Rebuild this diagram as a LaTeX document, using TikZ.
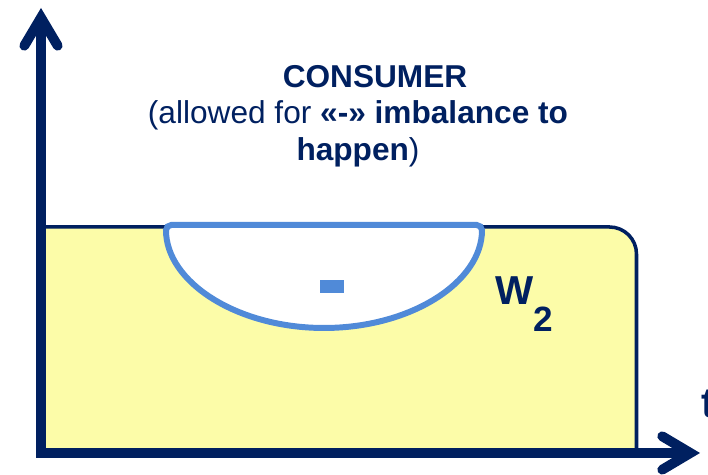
\documentclass[tikz,border=0pt]{standalone}
\usepackage{fontspec}
\setmainfont{Liberation Sans}
\usetikzlibrary{arrows.meta}
\definecolor{navy}{RGB}{0,32,96}
\definecolor{fillyellow}{RGB}{252,252,168}
\definecolor{lineblue}{RGB}{80,138,216}
\tikzset{
    barb/.tip={Straight Barb[length=16pt, width=19pt, line cap=round, line join=miter]},
    axisline/.style={navy, line width=5.6pt, line join=miter, barb-barb},
    border/.style={navy, line width=2pt},
    lobe/.style={lineblue, line width=3.4pt, fill=white, rounded corners=3pt},
    labeltext/.style={navy, font=\fontsize{18}{21}\selectfont, align=center, inner sep=0pt},
}

\begin{document}
\begin{tikzpicture}[x=0.02cm, y=0.02cm]

    \useasboundingbox (0,0) rectangle (708,475);

    % Energy area
    \fill[fillyellow] (41,22) -- (41,248) -- (609.5,248)
        arc[start angle=90, end angle=0, radius=27] -- (636.5,22) -- cycle;
    \draw[border] (41,248) -- (609.5,248)
        arc[start angle=90, end angle=0, radius=27] -- (636.5,22);

    % Imbalance lobe
    \draw[lobe] (166,250)
        arc[start angle=180, end angle=360, x radius=158, y radius=103] -- cycle;
    \fill[lineblue] (320,182) rectangle (344,195);

    % Axes
    \draw[axisline] (41,467) -- (41,22) -- (700,22);
    \node[navy, font=\fontsize{24}{28}\selectfont\bfseries, anchor=base west] (t) at (695,57) {t};

    % Labels
    \node[labeltext, font=\fontsize{18}{21}\selectfont\bfseries] (title) at (375,398) {CONSUMER};
    \node[labeltext] (note) at (358,341)
        {(allowed for \textbf{«-» imbalance to}\\ \textbf{happen})};
    \node[navy, font=\fontsize{23}{27}\selectfont\bfseries, anchor=base west, inner sep=0pt] (w) at (495,170)
        {W\raisebox{-15pt}{\fontsize{20}{24}\selectfont 2}};

\end{tikzpicture}
\end{document}
